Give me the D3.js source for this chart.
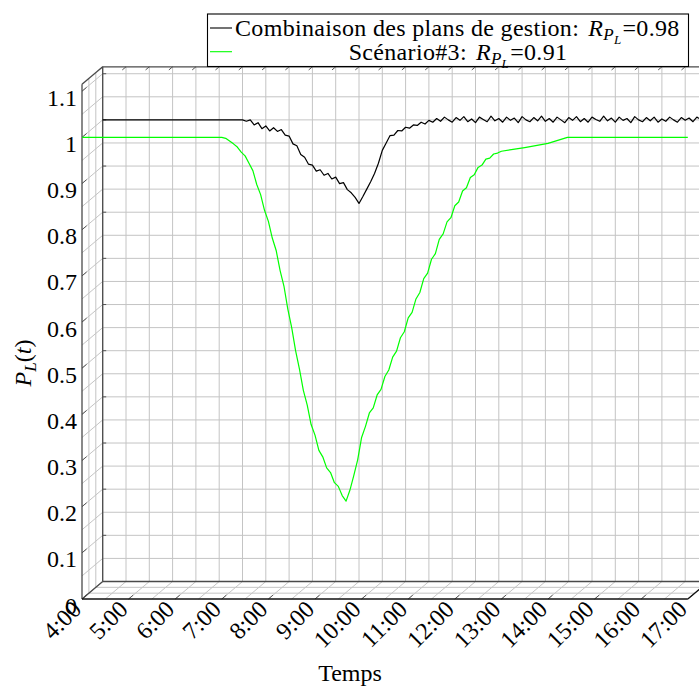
<!DOCTYPE html>
<html><head><meta charset="utf-8">
<script src="https://cdn.jsdelivr.net/npm/d3@7"></script>
<style>
body{margin:0;background:#fff}
svg{display:block}
text{font-family:"Liberation Serif","Times New Roman",serif;fill:#000}
</style>
</head><body>
<svg id="chart" width="699" height="686"></svg>
<script>
// ---------- data ----------
const hourTicks = [4,5,6,7,8,9,10,11,12,13,14,15,16,17];
const hourLabels = ["4:00","5:00","6:00","7:00","8:00","9:00","10:00","11:00","12:00","13:00","14:00","15:00","16:00","17:00"];
const yTicks = [0,0.1,0.2,0.3,0.4,0.5,0.6,0.7,0.8,0.9,1.0,1.1];
const yTickLabels = ["0","0.1","0.2","0.3","0.4","0.5","0.6","0.7","0.8","0.9","1","1.1"];
const seriesNames = ["Combinaison des plans de gestion:", "Scénario#3:"];
const seriesR = ["0.98", "0.91"];
const seriesColors = ["#000000", "#00ff00"];

const blackSeries = [
["04:00",1.000],["07:00",1.000],["07:05",0.997],["07:10",1.000],["07:15",0.989],["07:20",0.994],["07:25",0.981],["07:30",0.987],
["07:35",0.976],["07:40",0.983],["07:45",0.975],["07:50",0.979],["07:55",0.967],["08:00",0.965],["08:05",0.948],["08:10",0.944],
["08:15",0.925],["08:20",0.919],["08:25",0.904],["08:30",0.902],["08:35",0.889],["08:40",0.892],["08:45",0.880],["08:50",0.884],
["08:55",0.872],["09:00",0.876],["09:05",0.862],["09:10",0.864],["09:15",0.849],["09:20",0.842],["09:25",0.832],["09:30",0.819],
["09:35",0.834],["09:40",0.850],["09:45",0.866],["09:50",0.884],["09:55",0.906],["10:00",0.934],["10:05",0.950],["10:10",0.966],
["10:15",0.967],["10:20",0.977],["10:25",0.976],["10:30",0.984],["10:35",0.982],["10:40",0.989],["10:45",0.988],["10:50",0.995],
["10:55",0.991],["11:00",0.999],["11:05",0.995],["11:10",1.003],["11:15",0.997],["11:20",1.006],["11:25",1.000],["11:30",0.995],
["11:35",1.005],["11:40",0.999],["11:45",1.007],["11:50",0.996],["11:55",1.002],["12:00",0.994],["12:05",1.006],["12:10",1.001],
["12:15",0.996],["12:20",1.008],["12:25",0.998],["12:30",1.003],["12:35",0.995],["12:40",1.006],["12:45",0.999],["12:50",1.004],
["12:55",0.994],["13:00",1.007],["13:05",1.000],["13:10",0.996],["13:15",1.005],["13:20",0.998],["13:25",1.008],["13:30",0.997],
["13:35",1.003],["13:40",0.995],["13:45",1.006],["13:50",1.000],["13:55",0.994],["14:00",1.005],["14:05",0.999],["14:10",1.007],
["14:15",0.996],["14:20",1.003],["14:25",0.995],["14:30",1.006],["14:35",1.001],["14:40",0.997],["14:45",1.008],["14:50",0.998],
["14:55",1.004],["15:00",0.995],["15:05",1.006],["15:10",0.999],["15:15",1.003],["15:20",0.994],["15:25",1.007],["15:30",1.000],
["15:35",0.996],["15:40",1.005],["15:45",0.998],["15:50",1.006],["15:55",0.995],["16:00",1.002],["16:05",0.997],["16:10",1.006],
["16:15",1.000],["16:20",0.995],["16:25",1.005],["16:30",0.999],["16:35",1.004],["16:40",0.996],["16:45",1.006],["16:50",1.001],
["16:55",0.996],["17:00",1.005]
];

const greenSeries = [
["04:00",1.000],["07:00",1.000],["07:05",0.998],["07:10",0.992],["07:15",0.986],["07:20",0.979],["07:25",0.968],["07:30",0.960],
["07:35",0.944],["07:40",0.928],["07:45",0.898],["07:50",0.876],["07:55",0.842],["08:00",0.818],["08:05",0.782],["08:10",0.755],
["08:15",0.712],["08:20",0.678],["08:25",0.628],["08:30",0.588],["08:35",0.538],["08:40",0.498],["08:45",0.452],["08:50",0.420],
["08:55",0.378],["09:00",0.355],["09:05",0.322],["09:10",0.308],["09:15",0.284],["09:20",0.274],["09:25",0.252],["09:30",0.244],
["09:35",0.224],["09:40",0.212],["09:45",0.236],["09:50",0.268],["09:55",0.302],["10:00",0.350],["10:05",0.374],["10:10",0.403],
["10:15",0.414],["10:20",0.442],["10:25",0.454],["10:30",0.482],["10:35",0.496],["10:40",0.524],["10:45",0.537],["10:50",0.566],
["10:55",0.579],["11:00",0.609],["11:05",0.621],["11:10",0.650],["11:15",0.664],["11:20",0.694],["11:25",0.706],["11:30",0.736],
["11:35",0.748],["11:40",0.779],["11:45",0.791],["11:50",0.817],["11:55",0.826],["12:00",0.852],["12:05",0.860],["12:10",0.884],
["12:15",0.891],["12:20",0.913],["12:25",0.919],["12:30",0.935],["12:35",0.940],["12:40",0.953],["12:45",0.955],["12:50",0.964],
["12:55",0.966],["13:00",0.970],["13:30",0.978],["14:00",0.987],["14:25",1.000],["17:00",1.000]
];

// ---------- scales & 3D projection ----------
const svg = d3.select("#chart");
const x = d3.scaleLinear().domain([4,17]).range([82,687.8]);
const y = d3.scaleLinear().domain([0,1.115]).range([599,84.3]);
const DX = 20.7, DY = -17.5;
const P = (t,d,v) => [x(t)+DX*d, y(v)+DY*d];
const toHours = s => { const [h,m] = s.split(":").map(Number); return h + m/60; };
const T0 = 4, T1 = 17, V0 = 0, V1 = 1.115;

const xGrid = d3.range(4, 17.001, 0.5);
const yGrid = d3.range(0, 1.1001, 0.05);
const depthGrid = [1/3, 2/3];

const gridCol = "#c4c4c4";
const g = svg.append("g");
function seg(a, b, col, w){
  g.append("line").attr("x1",a[0]).attr("y1",a[1]).attr("x2",b[0]).attr("y2",b[1])
   .attr("stroke",col).attr("stroke-width",w);
}
// back wall grid
xGrid.forEach(t => seg(P(t,1,V0), P(t,1,V1), gridCol, 1));
yGrid.forEach(v => seg(P(T0,1,v), P(T1,1,v), gridCol, 1));
// left wall grid
yGrid.forEach(v => seg(P(T0,0,v), P(T0,1,v), gridCol, 1));
depthGrid.forEach(d => seg(P(T0,d,V0), P(T0,d,V1), gridCol, 1));
// floor grid
xGrid.forEach(t => seg(P(t,0,V0), P(t,1,V0), gridCol, 1));
depthGrid.forEach(d => seg(P(T0,d,V0), P(T1,d,V0), gridCol, 1));

// ticks
const tickCol = "#555";
xGrid.forEach(t => seg(P(t,1,V1), P(t,0.82,V1), tickCol, 1));
hourTicks.forEach(t => seg(P(t,0,V0), P(t,0.22,V0), tickCol, 1));
yTicks.forEach(v => seg(P(T0,0,v), P(T0,0.22,v), tickCol, 1));
yTicks.forEach(v => seg(P(T0,1,v), [P(T0,1,v)[0]+3.5, P(T0,1,v)[1]], tickCol, 1));

// box edges
const edgeCol = "#4a4a4a";
seg(P(T0,1,V0), P(T0,1,V1), edgeCol, 1.3);
seg(P(T0,1,V1), P(T1,1,V1), edgeCol, 1.3);
seg(P(T0,1,V0), P(T1,1,V0), edgeCol, 1.3);
seg(P(T0,0,V0), P(T0,0,V1), edgeCol, 1.3);
seg(P(T0,0,V1), P(T0,1,V1), edgeCol, 1.3);
seg(P(T0,0,V0), P(T0,1,V0), edgeCol, 1.3);
seg(P(T0,0,V0), P(T1,0,V0), "#111", 1.3);
seg(P(T1,0,V0), P(T1,1,V0), "#111", 1.3);

// data lines
const lineAt = depth => d3.line()
  .x(d => P(toHours(d[0]), depth, d[1])[0])
  .y(d => P(toHours(d[0]), depth, d[1])[1]);
svg.append("path").datum(blackSeries).attr("d", lineAt(1))
  .attr("fill","none").attr("stroke",seriesColors[0]).attr("stroke-width",1.2).attr("stroke-linejoin","round");
svg.append("path").datum(greenSeries).attr("d", lineAt(0))
  .attr("fill","none").attr("stroke",seriesColors[1]).attr("stroke-width",1.2).attr("stroke-linejoin","round");

// y tick labels
yTicks.forEach((v,i) => {
  svg.append("text").attr("x",77).attr("y",y(v)+14.5)
    .attr("text-anchor","end").attr("font-size",24).text(yTickLabels[i]);
});
// x tick labels
hourTicks.forEach((t,i) => {
  svg.append("text")
    .attr("transform",`translate(${x(t)-5},605) rotate(-45)`)
    .attr("text-anchor","end").attr("dominant-baseline","central")
    .attr("font-size",24).text(hourLabels[i]);
});

// axis titles
svg.append("text").attr("x",350).attr("y",681).attr("text-anchor","middle")
  .attr("font-size",24).text("Temps");
const yt = svg.append("text").attr("transform","translate(31,363) rotate(-90)")
  .attr("text-anchor","middle").attr("font-size",24);
yt.append("tspan").attr("font-style","italic").text("P");
yt.append("tspan").attr("font-style","italic").attr("font-size",17).attr("dy",5).text("L");
yt.append("tspan").attr("dy",-5).text("(");
yt.append("tspan").attr("font-style","italic").text("t");
yt.append("tspan").text(")");

// legend
svg.append("rect").attr("x",207.5).attr("y",14).attr("width",481).attr("height",52.5)
  .attr("fill","#fff").attr("stroke","#000").attr("stroke-width",1.1);
function rLabel(t, val){
  t.append("tspan").attr("font-style","italic").attr("dx",9).text("R");
  t.append("tspan").attr("font-style","italic").attr("font-size",17).attr("dy",4).text("P");
  t.append("tspan").attr("font-style","italic").attr("font-size",13).attr("dy",4).text("L");
  t.append("tspan").attr("font-size",24).attr("dy",-8).attr("dx",1).text("=" + val);
}
svg.append("line").attr("x1",210).attr("x2",232).attr("y1",28).attr("y2",28)
  .attr("stroke",seriesColors[0]).attr("stroke-width",1.1);
svg.append("line").attr("x1",210).attr("x2",232).attr("y1",51.7).attr("y2",51.7)
  .attr("stroke",seriesColors[1]).attr("stroke-width",1.1);
const l1 = svg.append("text").attr("x",235).attr("y",36).attr("font-size",24).attr("letter-spacing",0.33);
l1.append("tspan").text(seriesNames[0]);
rLabel(l1, seriesR[0]);
const l2 = svg.append("text").attr("x",458).attr("y",60).attr("font-size",24).attr("letter-spacing",0.33).attr("text-anchor","middle");
l2.append("tspan").text(seriesNames[1]);
rLabel(l2, seriesR[1]);
</script>
</body></html>
